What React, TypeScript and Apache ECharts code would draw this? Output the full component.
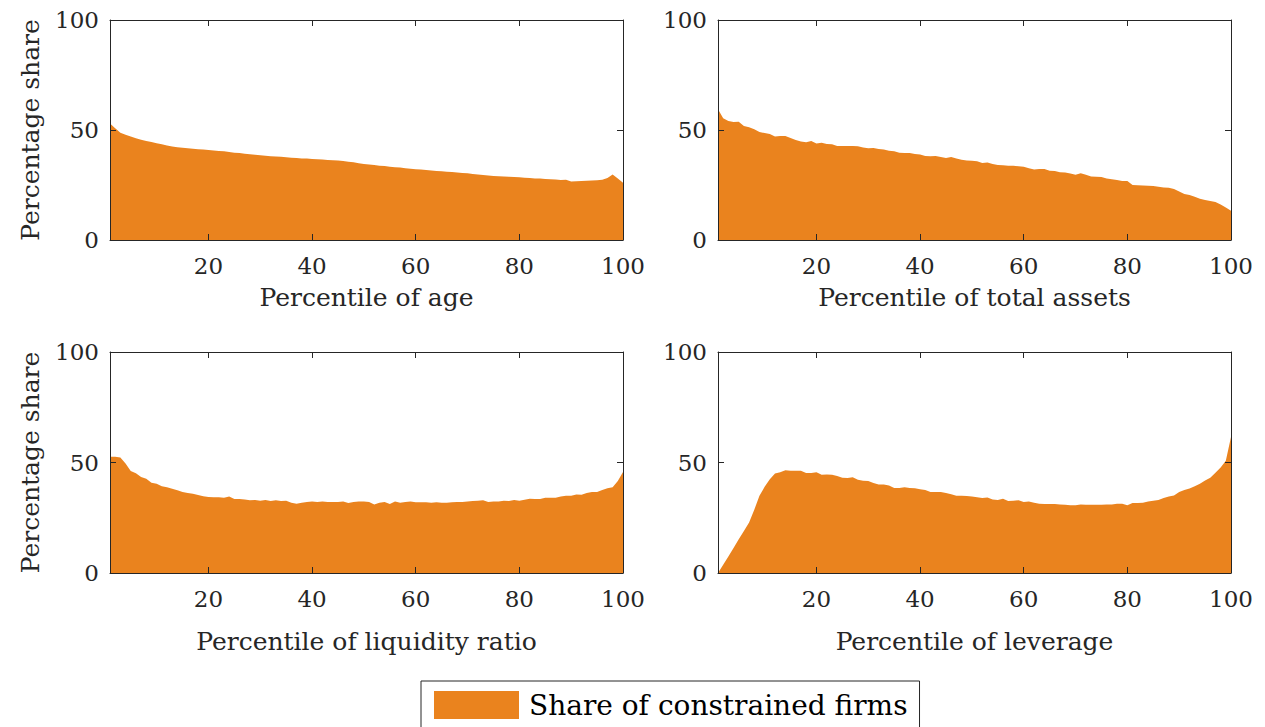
import React, { useEffect, useRef } from "react";
import * as echarts from "echarts";

const percentiles: number[] = Array.from({ length: 100 }, (_, i) => i + 1);

const ageShare = [
  53.0, 50.8, 48.8, 47.8, 47.0, 46.2, 45.6, 45.0, 44.5, 44.0,
  43.5, 43.0, 42.5, 42.2, 41.9, 41.7, 41.5, 41.3, 41.1, 40.9,
  40.7, 40.5, 40.3, 40.0, 39.7, 39.5, 39.2, 39.0, 38.8, 38.5,
  38.3, 38.1, 37.9, 37.8, 37.6, 37.4, 37.3, 37.1, 37.0, 36.8,
  36.7, 36.6, 36.4, 36.3, 36.1, 35.9, 35.6, 35.3, 34.9, 34.6,
  34.3, 34.1, 33.8, 33.6, 33.3, 33.1, 32.9, 32.6, 32.4, 32.2,
  32.0, 31.8, 31.6, 31.4, 31.2, 31.0, 30.9, 30.7, 30.5, 30.3,
  30.0, 29.8, 29.5, 29.3, 29.1, 29.0, 28.9, 28.7, 28.6, 28.5,
  28.3, 28.2, 28.0, 27.9, 27.7, 27.6, 27.5, 27.3, 27.4, 26.6,
  26.7, 26.8, 26.9, 27.0, 27.2, 27.4, 28.2, 29.8, 28.0, 26.0,
];

const assetsShare = [
  59.4, 55.3, 54.1, 53.6, 53.8, 51.8, 51.2, 50.3, 49.1, 48.6,
  48.2, 47.0, 47.3, 47.3, 46.4, 45.5, 44.8, 44.4, 45.0, 43.9,
  44.2, 43.6, 43.5, 42.7, 42.7, 42.7, 42.7, 42.6, 42.0, 41.7,
  41.8, 41.4, 41.1, 40.6, 40.3, 39.7, 39.6, 39.6, 39.1, 38.9,
  38.2, 38.1, 38.2, 37.7, 37.3, 37.7, 37.0, 36.5, 36.1, 36.0,
  35.8, 35.0, 35.2, 34.5, 34.1, 34.0, 33.8, 33.7, 33.5, 33.3,
  32.6, 32.1, 32.3, 32.3, 31.5, 31.4, 30.8, 30.7, 30.2, 29.7,
  30.3, 29.7, 28.9, 28.8, 28.6, 28.0, 27.6, 27.3, 26.8, 26.8,
  25.0, 24.9, 24.8, 24.7, 24.5, 24.2, 23.9, 23.7, 23.2, 22.0,
  20.9, 20.5, 19.7, 18.8, 18.2, 17.7, 17.3, 16.1, 14.8, 13.3,
];

const liquidityShare = [
  52.6, 52.6, 52.3, 49.5, 46.2, 45.1, 43.4, 42.7, 40.8, 40.4,
  39.3, 38.8, 38.1, 37.5, 36.7, 36.2, 35.9, 35.3, 34.7, 34.4,
  34.3, 34.3, 34.0, 34.6, 33.5, 33.5, 33.3, 32.9, 33.0, 32.7,
  33.0, 32.6, 32.9, 32.6, 32.7, 31.8, 31.3, 31.8, 32.1, 32.3,
  32.1, 32.4, 32.1, 32.1, 32.1, 32.4, 31.7, 32.1, 32.4, 32.3,
  32.1, 31.0, 31.8, 32.1, 31.2, 32.4, 31.8, 32.1, 32.4, 32.0,
  32.0, 32.0, 31.8, 32.0, 31.8, 31.8, 32.0, 32.1, 32.1, 32.3,
  32.6, 32.7, 32.9, 32.1, 32.3, 32.4, 32.7, 32.6, 33.0, 32.7,
  33.2, 33.6, 33.5, 33.5, 34.1, 34.1, 34.1, 34.6, 34.9, 34.9,
  35.5, 35.4, 36.2, 36.7, 36.7, 37.6, 38.4, 38.8, 41.6, 45.7,
];

const leverageShare = [
  0.0, 3.7, 7.5, 11.3, 15.3, 19.0, 22.8, 28.6, 34.9, 39.0,
  42.4, 45.0, 45.6, 46.5, 46.3, 46.3, 46.3, 45.3, 45.3, 45.6,
  44.5, 44.6, 44.5, 43.9, 43.1, 43.0, 43.3, 42.2, 41.7, 41.6,
  40.7, 40.1, 40.0, 39.6, 38.5, 38.5, 38.8, 38.5, 38.3, 37.9,
  37.6, 36.7, 36.7, 36.7, 36.2, 35.6, 34.9, 34.9, 34.8, 34.6,
  34.3, 33.9, 34.2, 33.3, 33.0, 33.6, 32.6, 32.7, 32.9, 32.1,
  32.4, 31.8, 31.3, 31.2, 31.2, 31.2, 31.0, 30.9, 30.6, 30.6,
  31.0, 30.9, 30.9, 30.9, 30.9, 31.0, 31.0, 31.3, 31.3, 30.7,
  31.7, 31.7, 31.8, 32.3, 32.7, 33.0, 33.9, 34.6, 35.1, 36.7,
  37.6, 38.2, 39.3, 40.4, 41.9, 43.1, 45.4, 47.7, 50.8, 61.5,
];

const xTickValues = [20, 40, 60, 80, 100];
const xAxisNames = [
  "Percentile of age",
  "Percentile of total assets",
  "Percentile of liquidity ratio",
  "Percentile of leverage",
];
const panelData = [ageShare, assetsShare, liquidityShare, leverageShare];
const yAxisName = "Percentage share";
const seriesName = "Share of constrained firms";

const FONT = "DejaVu Serif";
const AXIS = "#262626";
const ORANGE = "#EA831E";

export default function App() {
  const ref = useRef<HTMLDivElement>(null);
  useEffect(() => {
    if (!ref.current) return;
    const chart = echarts.init(ref.current, undefined, { renderer: "svg" });
    const grids = [
      { left: 110, top: 20, width: 513, height: 220 },
      { left: 718, top: 20, width: 513, height: 220 },
      { left: 110, top: 352, width: 513, height: 221 },
      { left: 718, top: 352, width: 513, height: 221 },
    ];
    const xAxes: any[] = [];
    const yAxes: any[] = [];
    const series: any[] = [];
    grids.forEach((g, i) => {
      const nameGap = i < 2 ? 45 : 56;
      const isLeft = i % 2 === 0;
      xAxes.push({
        type: "value",
        gridIndex: i,
        position: "bottom",
        min: 1,
        max: 100,
        z: 5,
        name: xAxisNames[i],
        nameLocation: "middle",
        nameGap,
        nameTextStyle: { fontFamily: FONT, fontSize: 25, color: AXIS },
        axisLine: { show: true, onZero: false, lineStyle: { color: AXIS, width: 1 } },
        axisTick: { show: true, inside: true, length: 6, customValues: xTickValues, lineStyle: { color: AXIS } },
        axisLabel: { show: true, customValues: xTickValues, fontFamily: FONT, fontSize: 23, color: AXIS, margin: 14 },
        splitLine: { show: false },
      });
      xAxes.push({
        type: "value",
        gridIndex: i,
        position: "top",
        min: 1,
        max: 100,
        z: 5,
        axisLine: { show: true, onZero: false, lineStyle: { color: AXIS, width: 1 } },
        axisTick: { show: true, inside: true, length: 6, customValues: xTickValues, lineStyle: { color: AXIS } },
        axisLabel: { show: false },
        splitLine: { show: false },
      });
      yAxes.push({
        type: "value",
        gridIndex: i,
        position: "left",
        min: 0,
        max: 100,
        interval: 50,
        z: 5,
        name: isLeft ? yAxisName : "",
        nameLocation: "middle",
        nameGap: 67,
        nameTextStyle: { fontFamily: FONT, fontSize: 25, color: AXIS },
        axisLine: { show: true, onZero: false, lineStyle: { color: AXIS, width: 1 } },
        axisTick: { show: true, inside: true, length: 6, lineStyle: { color: AXIS } },
        axisLabel: { show: true, fontFamily: FONT, fontSize: 23, color: AXIS, margin: 11 },
        splitLine: { show: false },
      });
      yAxes.push({
        type: "value",
        gridIndex: i,
        position: "right",
        min: 0,
        max: 100,
        interval: 50,
        z: 5,
        axisLine: { show: true, onZero: false, lineStyle: { color: AXIS, width: 1 } },
        axisTick: { show: true, inside: true, length: 6, lineStyle: { color: AXIS } },
        axisLabel: { show: false },
        splitLine: { show: false },
      });
      series.push({
        name: seriesName,
        type: "line",
        xAxisIndex: 2 * i,
        yAxisIndex: 2 * i,
        data: percentiles.map((p, k) => [p, panelData[i][k]]),
        showSymbol: false,
        symbol: "none",
        lineStyle: { width: 0, color: ORANGE },
        itemStyle: { color: ORANGE },
        areaStyle: { color: ORANGE, opacity: 1 },
        z: 2,
      });
    });
    chart.setOption({
      animation: false,
      backgroundColor: "#ffffff",
      grid: grids,
      xAxis: xAxes,
      yAxis: yAxes,
      series,
      legend: {
        show: true,
        left: 421,
        top: 681,
        data: [{ name: seriesName, icon: "rect" }],
        itemWidth: 85,
        itemHeight: 28,
        padding: [10, 12, 20, 13],
        borderColor: AXIS,
        borderWidth: 1,
        selectedMode: false,
        textStyle: { fontFamily: FONT, fontSize: 28, color: "#000000", padding: [0, 0, 0, 5] },
      },
    });
    return () => chart.dispose();
  }, []);
  return (
    <div
      ref={ref}
      style={{ position: "absolute", left: 0, top: 0, width: 1265, height: 727, background: "#fff" }}
    />
  );
}
